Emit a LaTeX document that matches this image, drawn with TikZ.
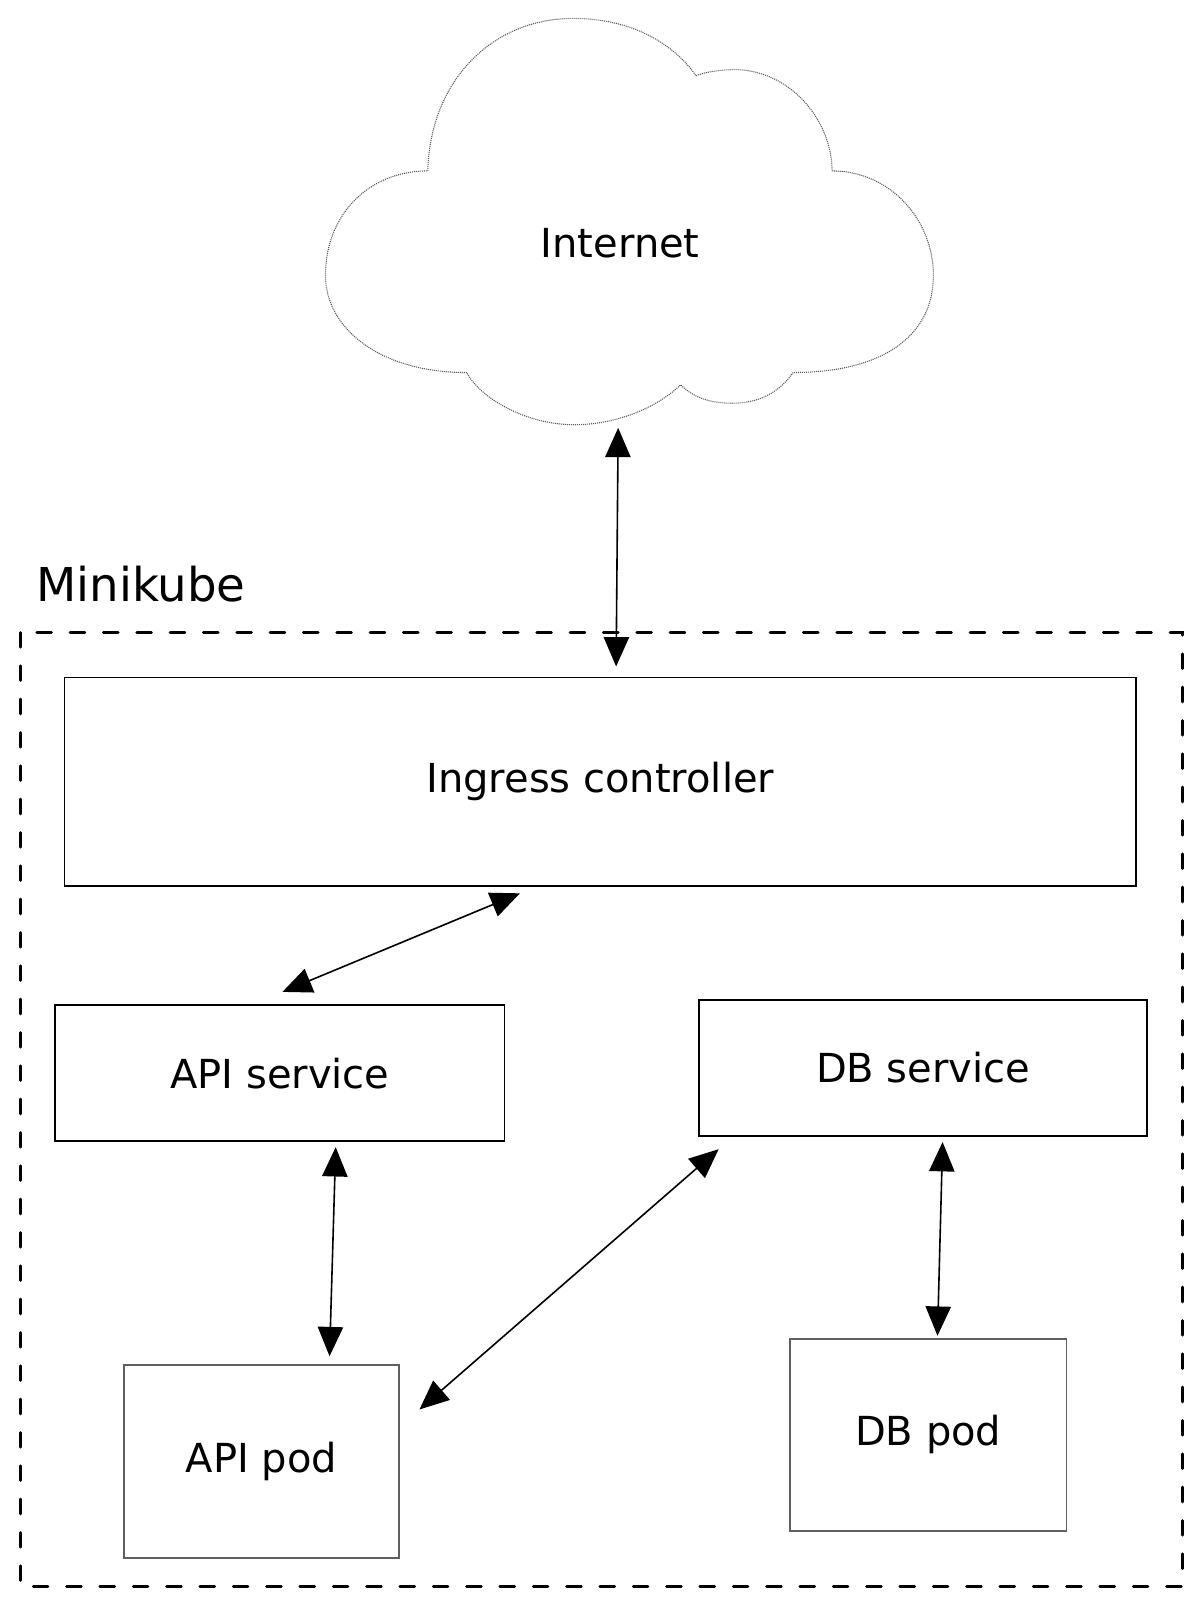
\documentclass[tikz,border=0pt]{standalone}
\usepackage{fontspec}
\setmainfont{DejaVu Sans}
\usetikzlibrary{arrows.meta}

\tikzset{every picture/.style={line width=0.75pt}}
\tikzset{
  box/.style={draw, line width=1.3pt, inner sep=0pt, font=\fontsize{30}{36}\selectfont},
  podbox/.style={box, draw={rgb, 255:red, 95; green, 95; blue, 95}},
  link/.style={line width=1.2pt, {Triangle[length=22pt,width=19pt]}-{Triangle[length=22pt,width=19pt]}},
}

\begin{document}
\begin{tikzpicture}[x=0.7676pt,y=0.7676pt,yscale=-1,xscale=1]
\useasboundingbox (0,0) rectangle (1174.4,1569.2);

%Shape: Cloud
\draw [color={rgb, 255:red, 90; green, 90; blue, 90 }, line width=0.8pt, dash pattern={on 0.8pt off 0.7pt}]
  (418,167) .. controls (420,80) and (480,18) .. (560,18)
  .. controls (620,18) and (660,45) .. (680,74)
  .. controls (690,70) and (705,68) .. (720,68)
  .. controls (775,70) and (813,120) .. (813,167)
  .. controls (870,167) and (912,215) .. (912,269)
  .. controls (912,330) and (860,364) .. (775,364)
  .. controls (760,385) and (740,394) .. (715,394)
  .. controls (690,394) and (675,386) .. (665,376)
  .. controls (640,400) and (600,415) .. (561,415)
  .. controls (515,415) and (470,390) .. (456,364)
  .. controls (370,364) and (318,320) .. (318,269)
  .. controls (318,210) and (360,167) .. (418,167) -- cycle ;
% Text Node
\node (net) at (606,238) [font=\fontsize{30}{36}\selectfont] {Internet};
\coordinate (netb) at (604,418);

%Shape: Rectangle [dashed frame]
\draw [line width=2.2pt, line cap=round, dash pattern={on 11pt off 14pt}] (20,618) rectangle (1155,1550);
% Text Node
\node (mk) [anchor=base west, inner sep=0pt, font=\fontsize{35}{42}\selectfont] at (35,588) {Minikube};

%Shape: Rectangle
\node (ingress) [box, minimum width=803.7pt, minimum height=156.6pt] at (586.5,764) {Ingress controller};
%Shape: Rectangle
\node (apisvc) [box, minimum width=337pt, minimum height=102.1pt] at (273.5,1048.5) {API service};
%Shape: Rectangle
\node (dbsvc) [box, minimum width=336.2pt, minimum height=102.1pt] at (902,1043.5) {DB service};
%Shape: Rectangle
\node (apipod) [podbox, minimum width=206.5pt, minimum height=144.3pt] at (255.5,1428) {API pod};
%Shape: Rectangle
\node (dbpod) [podbox, minimum width=207.3pt, minimum height=144.3pt] at (907,1402) {DB pod};

%Straight Lines
\draw [link] (netb) -- ([shift={(15.5,-10)}]ingress.north) ;
%Straight Lines
\draw [link] ([shift={(-78.5,6)}]ingress.south) -- ([shift={(2.5,-12)}]apisvc.north) ;
%Straight Lines
\draw [link] ([shift={(54.5,5)}]apisvc.south) -- ([shift={(66.5,-8)}]apipod.north) ;
%Straight Lines
\draw [link] ([shift={(20,12)}]dbsvc.south west) -- ([shift={(19,44)}]apipod.north east) ;
%Straight Lines
\draw [link] ([shift={(19,5)}]dbsvc.south) -- ([shift={(9,-2)}]dbpod.north) ;

\end{tikzpicture}
\end{document}
